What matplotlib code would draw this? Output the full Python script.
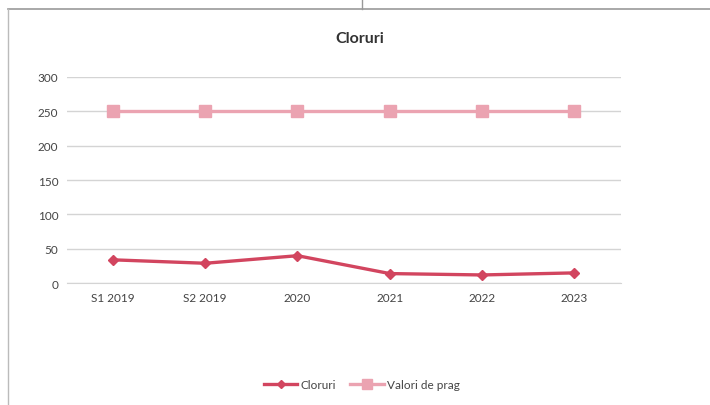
import matplotlib
matplotlib.use("Agg")
import matplotlib.pyplot as plt
from matplotlib.lines import Line2D

plt.rcParams['font.family'] = ['Lato', 'DejaVu Sans']

# data
categories = ["S1 2019", "S2 2019", "2020", "2021", "2022", "2023"]
cloruri = [34, 29, 40, 14, 12, 15]
valori_prag = [250, 250, 250, 250, 250, 250]

fig = plt.figure(figsize=(7.1, 4.06), dpi=100)
ax = fig.add_axes([0.094, 0.30, 0.78, 0.508])

x = list(range(len(categories)))
ax.plot(x, cloruri, color='#d2455f', lw=2.4, marker='D', ms=5.5,
        label='Cloruri', zorder=3)
ax.plot(x, valori_prag, color='#eba3b1', lw=2.4, marker='s', ms=9,
        label='Valori de prag', zorder=3)

ax.set_xlim(-0.5, len(categories) - 0.5)
ax.set_ylim(0, 300)
ax.set_yticks(range(0, 301, 50))
ax.set_xticks(x)
ax.set_xticklabels(categories)
ax.grid(axis='y', color='#d4d4d4', lw=1)
ax.set_axisbelow(True)
for s in ['top', 'right', 'left']:
    ax.spines[s].set_visible(False)
ax.spines['bottom'].set_color('#d4d4d4')
ax.tick_params(length=0, labelsize=8.5, colors='#444444', pad=6)

fig.text(0.507, 0.905, 'Cloruri', ha='center', va='center',
         fontsize=11.5, fontweight='bold', color='#333333')

fig.legend(loc='center', bbox_to_anchor=(0.51, 0.05), ncol=2, frameon=False,
           fontsize=8.5, handlelength=2.8, columnspacing=1.2, handletextpad=0.3,
           labelcolor='#444444', markerscale=0.75)

# chart frame edge from the scan
fig.add_artist(Line2D([0.011, 1.0], [0.975, 0.975], transform=fig.transFigure,
                      color='#999999', lw=1.2))
fig.add_artist(Line2D([0.011, 0.011], [0.0, 0.975], transform=fig.transFigure,
                      color='#bbbbbb', lw=1))
fig.add_artist(Line2D([0.51, 0.51], [0.975, 1.0], transform=fig.transFigure,
                      color='#999999', lw=1))

fig.savefig('out.png', dpi=100)
